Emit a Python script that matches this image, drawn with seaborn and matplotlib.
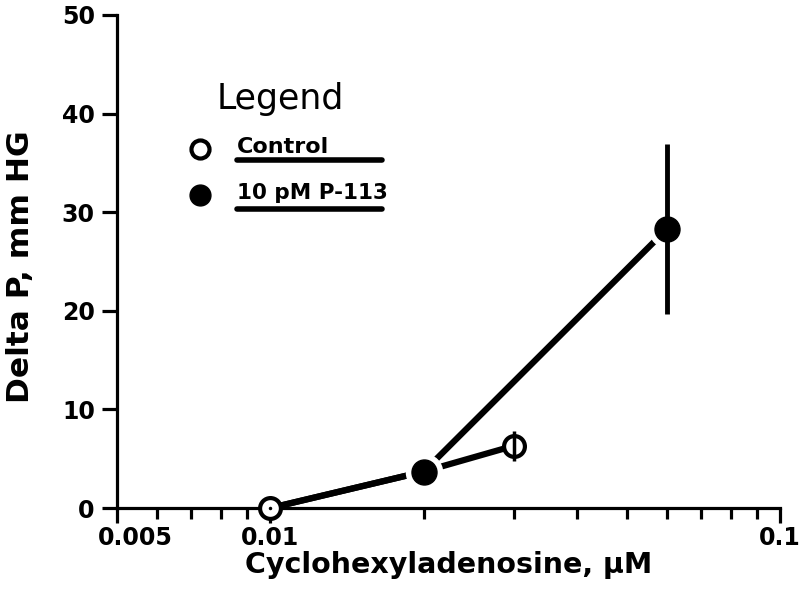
import matplotlib
matplotlib.use("Agg")
import matplotlib.pyplot as plt
import pandas as pd
import seaborn as sns
from matplotlib.ticker import FixedLocator, NullFormatter, FixedFormatter
from matplotlib.transforms import ScaledTranslation

# data
control_conc = [0.01, 0.02, 0.03]
control_dp = [0.0, 3.7, 6.3]
control_err = [0.0, 0.0, 1.5]

p113_conc = [0.01, 0.02, 0.06]
p113_dp = [0.0, 3.7, 28.3]
p113_err = [0.0, 0.0, 8.6]

series_names = ["Control", "10 pM P-113"]
y_ticks = [0, 10, 20, 30, 40, 50]
x_major = [0.005, 0.01, 0.1]
x_major_labels = ["0.005", "0.01", "0.1"]
x_minor = [0.006, 0.007, 0.008, 0.009, 0.02, 0.03, 0.04, 0.05,
           0.06, 0.07, 0.08, 0.09]

df = pd.DataFrame({
    "conc": control_conc + p113_conc,
    "dp": control_dp + p113_dp,
    "series": [series_names[0]] * 3 + [series_names[1]] * 3,
})

sns.set_style("white")
plt.rcParams["font.family"] = ["DejaVu Sans"]
plt.rcParams["font.weight"] = "bold"
plt.rcParams["text.color"] = "black"
plt.rcParams["axes.labelcolor"] = "black"
plt.rcParams["xtick.color"] = "black"
plt.rcParams["ytick.color"] = "black"

fig = plt.figure(figsize=(8, 5.95), dpi=100)
ax = fig.add_axes([117 / 800, 87 / 595, 663 / 800, 493 / 595])

sns.lineplot(data=df, x="conc", y="dp", hue="series",
             palette=["black", "black"], linewidth=4.5, legend=False,
             estimator=None, sort=False, ax=ax, zorder=2)
for line in ax.lines:
    line.set_solid_capstyle("round")

# white halo round the filled markers so the lines stop short of them
ax.plot(p113_conc[1:], p113_dp[1:], "o", ms=26, color="white",
        mec="white", zorder=3)
ax.plot(control_conc[:1], control_dp[:1], "o", ms=15, mfc="white",
        mec="black", mew=3, zorder=4, clip_on=False)
ax.plot(control_conc[2:], control_dp[2:], "o", ms=15, mfc="white",
        mec="black", mew=3, zorder=4)
ax.plot(p113_conc[1:], p113_dp[1:], "o", ms=18, color="black", zorder=4)
ax.plot([0.01], [0.0], ".", ms=3, color="black", zorder=5, clip_on=False)

ax.errorbar(control_conc[2:], control_dp[2:], yerr=control_err[2:],
            fmt="none", ecolor="black", elinewidth=2.5, capsize=0, zorder=5)
ax.errorbar(p113_conc[2:], p113_dp[2:], yerr=p113_err[2:],
            fmt="none", ecolor="black", elinewidth=3.5, capsize=0, zorder=5)

ax.set_xscale("log")
ax.set_xlim(0.005, 0.1)
ax.set_ylim(0, 50)
ax.xaxis.set_major_locator(FixedLocator(x_major))
ax.xaxis.set_major_formatter(FixedFormatter(x_major_labels))
ax.xaxis.set_minor_locator(FixedLocator(x_minor))
ax.xaxis.set_minor_formatter(NullFormatter())
ax.set_yticks(y_ticks)

sns.despine(ax=ax)
for side in ["left", "bottom"]:
    ax.spines[side].set_linewidth(2.3)
    ax.spines[side].set_color("black")
    ax.spines[side].set_capstyle("projecting")
ax.tick_params(axis="both", which="both", direction="out", width=2.3,
               color="black", labelsize=17, bottom=True, left=True)
ax.tick_params(axis="x", which="major", length=11, pad=2)
ax.tick_params(axis="x", which="minor", length=8)
ax.tick_params(axis="y", length=11, pad=5)

ax.set_xlabel("Cyclohexyladenosine, μM", fontsize=20.5, fontweight="bold")
ax.xaxis.set_label_coords(0.50, -0.088)
ax.set_ylabel("Delta P, mm HG", fontsize=22.5, fontweight="bold")
ax.yaxis.set_label_coords(-0.124, 0.49)

# nudge the first x label to the right, as in the reference
fig.canvas.draw()
first = ax.xaxis.get_major_ticks()[0].label1
first.set_transform(first.get_transform()
                    + ScaledTranslation(0.18, 0, fig.dpi_scale_trans))

# hand-drawn style legend
ax.text(0.2465, 0.83, "Legend", transform=ax.transAxes, fontsize=25,
        fontweight="normal", ha="center", va="center")
ax.plot([0.125], [0.728], "o", ms=13, mfc="white", mec="black", mew=3,
        transform=ax.transAxes, clip_on=False)
ax.plot([0.125], [0.634], "o", ms=15, color="black",
        transform=ax.transAxes, clip_on=False)
ax.text(0.181, 0.732, series_names[0], transform=ax.transAxes,
        fontsize=16, fontweight="bold", ha="left", va="center")
ax.text(0.181, 0.638, series_names[1], transform=ax.transAxes,
        fontsize=15.5, fontweight="bold", ha="left", va="center")
for y in [0.705, 0.607]:
    ax.plot([0.181, 0.40], [y, y], color="black", lw=4,
            solid_capstyle="round", transform=ax.transAxes, clip_on=False)

fig.savefig("out.png", dpi=100)
